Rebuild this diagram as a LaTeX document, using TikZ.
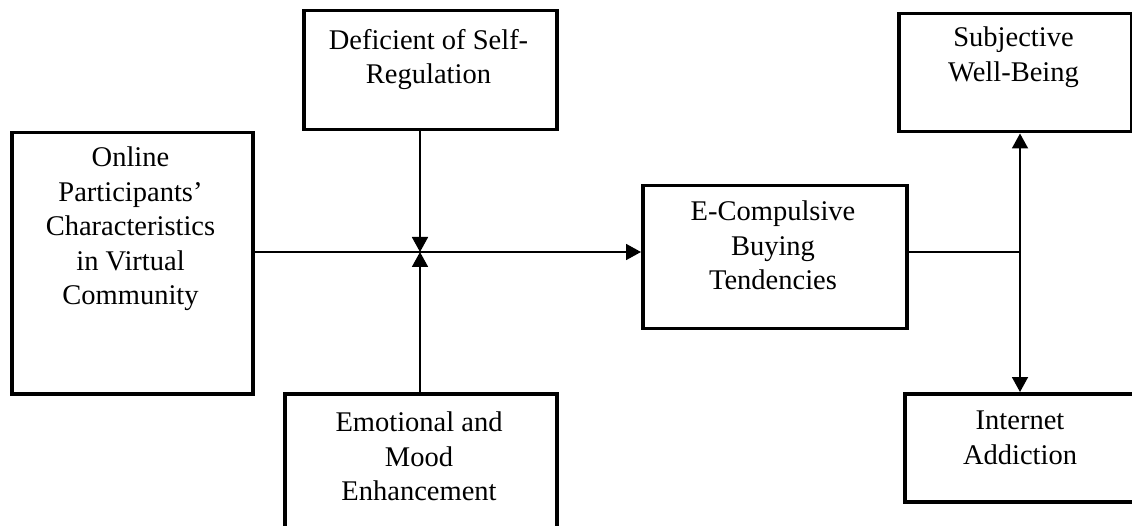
\documentclass[tikz,border=0pt]{standalone}
\usepackage{fontspec}
\setmainfont{Liberation Serif}
\usetikzlibrary{arrows.meta}
\begin{document}
\begin{tikzpicture}[x=1pt,y=-1pt,
  box/.style={draw=black,line width=3.5pt,rectangle,inner sep=0pt,anchor=north west},
  txt/.style={inner sep=0pt,anchor=north,align=center,font=\fontsize{28.5}{34.5}\selectfont},
  conn/.style={draw=black,line width=1.8pt},
  arr/.style={-{Triangle[width=16pt,length=15pt]}}]
\useasboundingbox (0,0) rectangle (1132,526);
% boxes
\node[box,minimum width=241pt,minimum height=261pt] (A) at (10,131) {};
\node[box,minimum width=253pt,minimum height=119pt] (B) at (302,9) {};
\node[box,minimum width=272pt,minimum height=170pt] (C) at (283,392) {};
\node[box,minimum width=264pt,minimum height=143pt] (D) at (641,184) {};
\node[box,minimum width=233pt,minimum height=118pt] (E) at (897,12) {};
\node[box,minimum width=240pt,minimum height=108pt] (F) at (903,392) {};
% texts
\node[txt] (At) at (130.5,147) {Online\\Participants’\\Characteristics\\in Virtual\\Community};
\node[txt] (Bt) at (428.5,29) {Deficient of Self-\\Regulation};
\node[txt] (Ct) at (419,412) {Emotional and\\Mood\\Enhancement};
\node[txt] (Dt) at (773,201) {E-Compulsive\\Buying\\Tendencies};
\node[txt] (Et) at (1013.5,27) {Subjective\\Well-Being};
\node[txt] (Ft) at (1020,411) {Internet\\Addiction};
% junctions
\coordinate (J) at (420,252);
\coordinate (K) at (1020,252);
% connectors
\draw[conn,arr] (A.east |- J) -- (D.west |- J);
\draw[conn,arr] (B.south -| J) -- (J);
\draw[conn,arr] (C.north -| J) -- (J);
\draw[conn] (D.east |- K) -- (K);
\draw[conn,arr] (K) -- (E.south -| K);
\draw[conn,arr] (K) -- (F.north -| K);
\end{tikzpicture}
\end{document}
